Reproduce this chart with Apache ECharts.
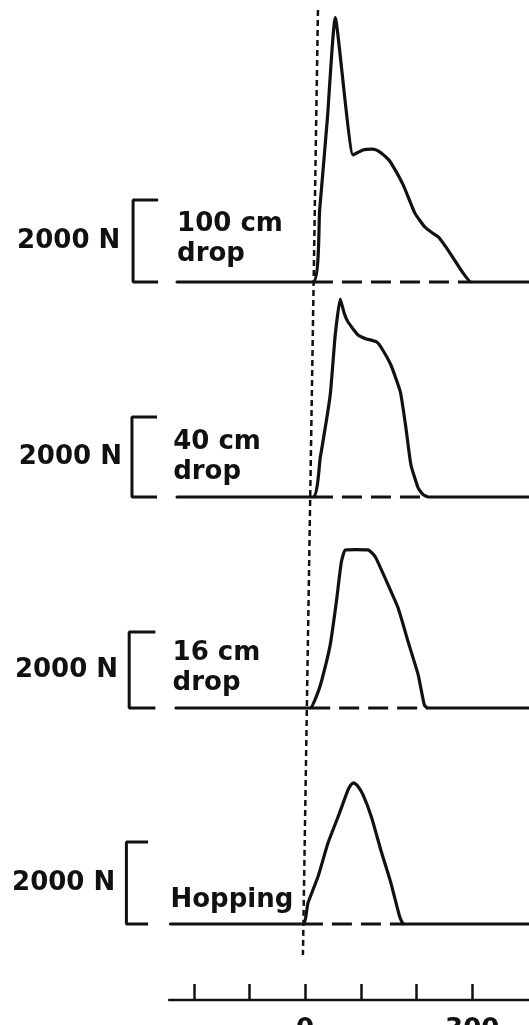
<!DOCTYPE html>
<html><head><meta charset="utf-8">
<script src="https://cdn.jsdelivr.net/npm/echarts@6/dist/echarts.min.js"></script>
<style>html,body{margin:0;padding:0;background:#fff}#c{width:529px;height:1025px}</style>
</head><body><div id="c"></div><script>
// ---- data (time in ms, force in N) ----
const panelNames = ['100 cm\ndrop', '40 cm\ndrop', '16 cm\ndrop', 'Hopping'];
const scaleLabel = '2000 N';
const scaleForce = 2000;
const timeTickMin = -200, timeTickMax = 300, timeTickStep = 100;
const timeLabels = [0, 300];

const drop100Time  = [-230, 14, 26, 40, 54, 86, 104, 120, 131, 145, 153, 176, 197, 215, 228, 239, 252, 266, 282, 298, 402];
const drop100Force = [0, 0, 1750, 4000, 6450, 3100, 3220, 3240, 3200, 3050, 2930, 2370, 1680, 1340, 1200, 1100, 870, 585, 250, 0, 0];

const drop40Time  = [-230, 14, 27, 45, 54, 63, 70, 77, 95, 110, 118, 128, 136, 154, 171, 181, 190, 203, 212, 221, 402];
const drop40Force = [0, 0, 975, 2550, 4050, 4950, 4600, 4375, 4050, 3950, 3925, 3880, 3750, 3300, 2625, 1725, 800, 225, 60, 0, 0];

const drop16Time  = [-232, 9, 20, 29, 45, 56, 65, 72, 90, 113, 120, 127, 149, 167, 185, 203, 214, 220, 402];
const drop16Force = [0, 0, 300, 684, 1660, 2790, 3840, 4160, 4170, 4160, 4080, 3950, 3240, 2630, 1740, 870, 80, 0, 0];

const hopTime  = [-242, -4, 5, 23, 41, 59, 77, 82, 87, 93, 104, 119, 136, 154, 170, 177, 402];
const hopForce = [0, 0, 510, 1150, 1975, 2610, 3270, 3390, 3440, 3390, 3150, 2610, 1800, 1000, 170, 0, 0];

// contact marker (dotted), slightly skewed in the scanned original: [time ms, vertical fraction 0..1000]
const contactTime = [23, -4];
const contactSpan = [10, 955];

// ---- layout ----
const panels = [
  {t: drop100Time, f: drop100Force, base: 282, k: 82, bx: -309, arm: -264, sx: -332, nx: -230, nf: 1050},
  {t: drop40Time,  f: drop40Force,  base: 497, k: 80, bx: -311, arm: -266, sx: -329, nx: -237, nf: 1000},
  {t: drop16Time,  f: drop16Force,  base: 708, k: 76, bx: -316, arm: -269, sx: -336, nx: -238, nf: 1050},
  {t: hopTime,     f: hopForce,     base: 924, k: 82, bx: -321, arm: -282, sx: -341, nx: -242, nf: 585}
];
const FMIN = -1000, FMAX = 6600, TMIN = -548, TMAX = 402;
const PX_PER_MS = 529 / (TMAX - TMIN);
const ZERO_X = -TMIN * PX_PER_MS;
const INK = '#111';
const FONT = {fontFamily: 'DejaVu Sans', fontWeight: 'bold', fontSize: 26, color: INK};

const grid = [], xAxis = [], yAxis = [], series = [];
panels.forEach((p, i) => {
  const pxPerN = p.k / scaleForce;
  grid.push({left: 0, right: 0, top: p.base - FMAX * pxPerN, height: (FMAX - FMIN) * pxPerN, outerBoundsMode: 'none'});
  xAxis.push({type: 'value', gridIndex: i, min: TMIN, max: TMAX, show: false});
  yAxis.push({type: 'value', gridIndex: i, min: FMIN, max: FMAX, show: false});
  series.push({type: 'line', xAxisIndex: i, yAxisIndex: i, symbol: 'none', clip: false, silent: true, z: 2,
    data: [[p.t[1], 0], [p.t[p.t.length - 2], 0]],
    lineStyle: {color: INK, width: 3, type: [20, 9]}});
  series.push({type: 'line', xAxisIndex: i, yAxisIndex: i, symbol: 'none', clip: false, silent: true, z: 3,
    smooth: 0.15,
    data: p.t.map((t, j) => [t, p.f[j]]),
    lineStyle: {color: INK, width: 3.2, join: 'round', cap: 'round'}});
  series.push({type: 'line', xAxisIndex: i, yAxisIndex: i, symbol: 'none', clip: false, silent: true, z: 3,
    data: [[p.arm, scaleForce], [p.bx, scaleForce], [p.bx, 0], [p.arm, 0]],
    lineStyle: {color: INK, width: 3}});
  series.push({type: 'scatter', xAxisIndex: i, yAxisIndex: i, symbolSize: 0, silent: true, z: 4,
    itemStyle: {opacity: 1},
    data: [[p.sx, scaleForce / 2]],
    label: Object.assign({show: true, position: 'inside', align: 'right', verticalAlign: 'middle', formatter: scaleLabel}, FONT)});
  series.push({type: 'scatter', xAxisIndex: i, yAxisIndex: i, symbolSize: 0, silent: true, z: 4,
    itemStyle: {opacity: 1},
    data: [[p.nx, p.nf]],
    label: Object.assign({show: true, position: 'inside', align: 'left', verticalAlign: 'middle', lineHeight: 30, formatter: panelNames[i]}, FONT)});
});

// overlay grid (vertical 0..1000 px band) for the dotted contact line and time-axis line
grid.push({left: 0, right: 0, top: 0, height: 1000, outerBoundsMode: 'none'});
xAxis.push({type: 'value', gridIndex: 4, min: TMIN, max: TMAX, show: false});
yAxis.push({type: 'value', gridIndex: 4, min: 0, max: 1000, inverse: true, show: false});
series.push({type: 'line', xAxisIndex: 4, yAxisIndex: 4, symbol: 'none', clip: false, silent: true, z: 5,
  data: contactTime.map((t, j) => [t, contactSpan[j]]),
  lineStyle: {color: INK, width: 2.5, type: [6, 4]}});
series.push({type: 'line', xAxisIndex: 4, yAxisIndex: 4, symbol: 'none', clip: false, silent: true, z: 5,
  data: [[-246, 1000], [TMAX, 1000]],
  lineStyle: {color: INK, width: 2.5}});

// time axis (ticks + labels)
const axLeft = ZERO_X + timeTickMin * PX_PER_MS;
const axRight = 529 - (ZERO_X + timeTickMax * PX_PER_MS);
grid.push({left: axLeft, right: axRight, top: 960, height: 40, outerBoundsMode: 'none'});
xAxis.push({type: 'value', gridIndex: 5, min: timeTickMin, max: timeTickMax, interval: timeTickStep, position: 'bottom',
  axisLine: {show: false, onZero: false},
  axisTick: {show: true, inside: true, length: 16, lineStyle: {color: INK, width: 2.5}},
  axisLabel: Object.assign({show: true, margin: 17, showMinLabel: true, showMaxLabel: true, hideOverlap: false,
    formatter: v => timeLabels.includes(v) ? String(v) : ''}, FONT),
  splitLine: {show: false}});
yAxis.push({type: 'value', gridIndex: 5, show: false});

const chart = echarts.init(document.getElementById('c'), null, {renderer: 'canvas'});
chart.setOption({animation: false, backgroundColor: '#fff', grid, xAxis, yAxis, series});
</script></body></html>
